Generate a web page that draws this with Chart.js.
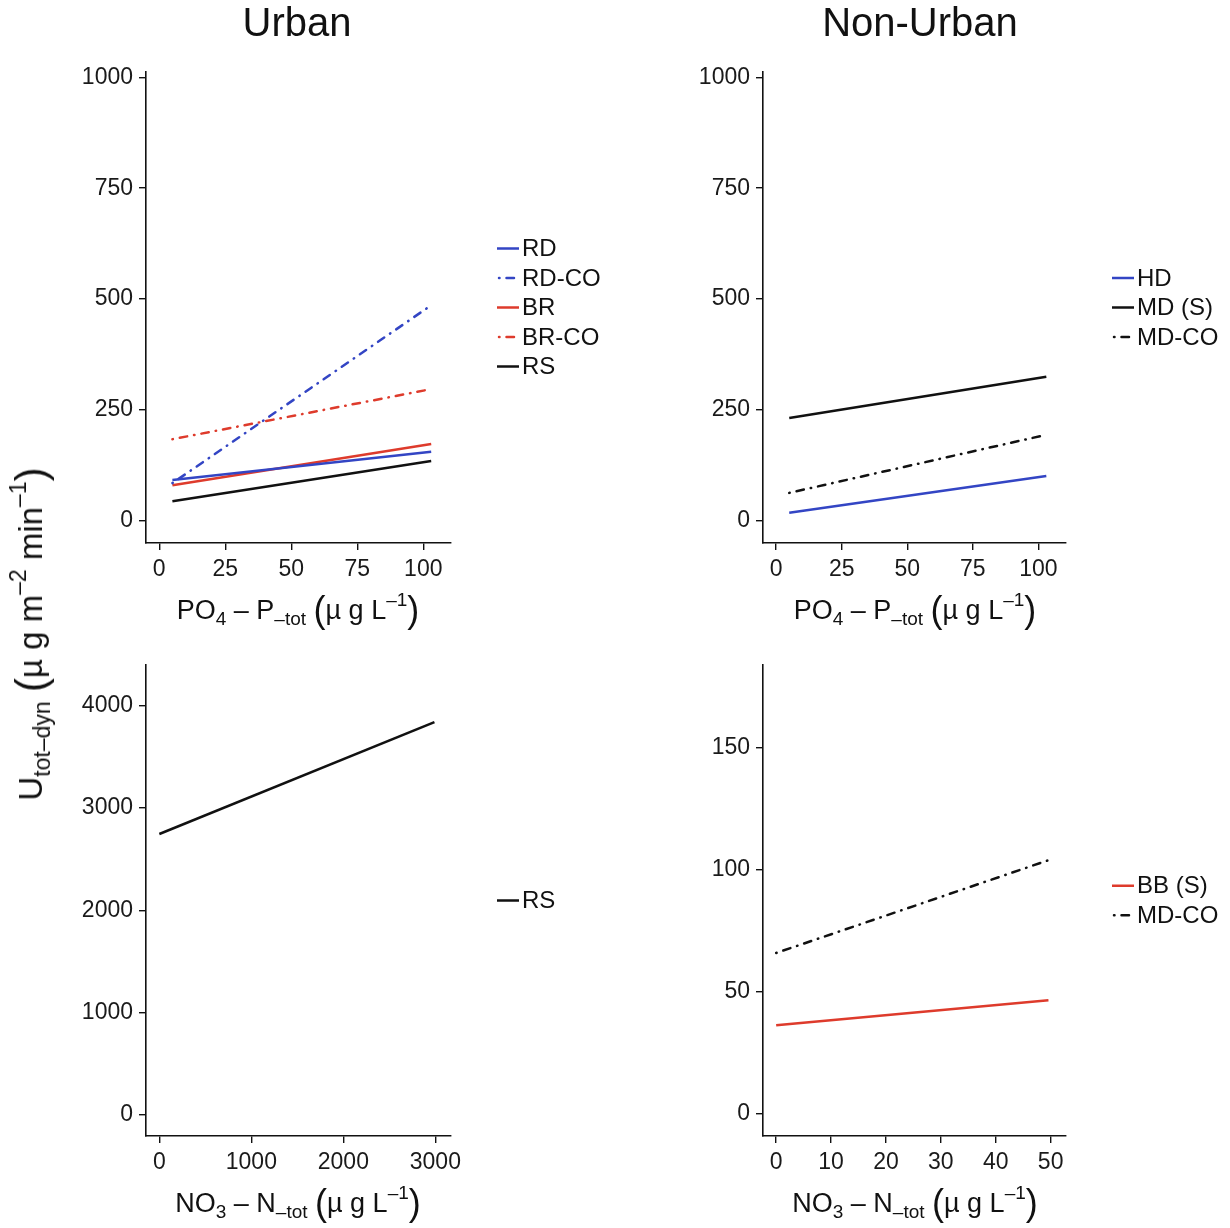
<!DOCTYPE html>
<html>
<head>
<meta charset="utf-8">
<script src="https://cdn.jsdelivr.net/npm/chart.js@4.4.1/dist/chart.umd.min.js"></script>
<style>
  body { margin: 0; background: #fff; font-family: "Liberation Sans", Arial, sans-serif; color: #111; }
  #wrap { position: relative; width: 1230px; height: 1228px; overflow: hidden; }
  canvas.panel { position: absolute; }
  .lbl { position: absolute; transform: translate(-50%, -50%); white-space: nowrap; line-height: 1; }
  .title { font-size: 40px; }
  .axt { font-size: 27px; }
  .axt sub, .axt sup { font-size: 19px; line-height: 0; }
  .axt sub { vertical-align: -6px; }
  .axt sup { vertical-align: 13px; }
  .par { font-size: 36px; vertical-align: -3px; }
  #ytitle { transform: translate(-50%, -50%) rotate(-90deg); font-size: 33px; }
  #ytitle sub, #ytitle sup { font-size: 23px; }
  #ytitle sub { vertical-align: -8px; }
  #ytitle sup { vertical-align: 16px; }
  #ytitle .par { font-size: 42px; }
</style>
</head>
<body>
<div id="wrap">
  <canvas id="urbanPo" class="panel" width="615" height="614" style="left:0;top:0"></canvas>
  <canvas id="nonUrbanPo" class="panel" width="615" height="614" style="left:615px;top:0"></canvas>
  <canvas id="urbanNo" class="panel" width="615" height="614" style="left:0;top:614px"></canvas>
  <canvas id="nonUrbanNo" class="panel" width="615" height="614" style="left:615px;top:614px"></canvas>

  <div class="lbl title" style="left:297px;top:22px">Urban</div>
  <div class="lbl title" style="left:920px;top:22px">Non-Urban</div>

  <div class="lbl axt" style="left:298px;top:610px">PO<sub>4</sub> – P<sub>–tot</sub> <span class="par">(</span>µ g L<sup>–1</sup><span class="par">)</span></div>
  <div class="lbl axt" style="left:915px;top:610px">PO<sub>4</sub> – P<sub>–tot</sub> <span class="par">(</span>µ g L<sup>–1</sup><span class="par">)</span></div>
  <div class="lbl axt" style="left:298px;top:1203px">NO<sub>3</sub> – N<sub>–tot</sub> <span class="par">(</span>µ g L<sup>–1</sup><span class="par">)</span></div>
  <div class="lbl axt" style="left:915px;top:1203px">NO<sub>3</sub> – N<sub>–tot</sub> <span class="par">(</span>µ g L<sup>–1</sup><span class="par">)</span></div>

  <div id="ytitle" class="lbl axt" style="left:31px;top:634px">U<sub>tot–dyn</sub> <span class="par">(</span>µ g m<sup>–2</sup> min<sup>–1</sup><span class="par">)</span></div>
</div>

<script>
// fitted regression lines, endpoints only
const poRange = [5, 103];
const urbanPoNames = ["RD", "RD-CO", "BR", "BR-CO", "RS"];
const urbanRD = [92, 156];
const urbanRDCO = [85, 486];
const urbanBR = [80, 173];
const urbanBRCO = [184, 297];
const urbanRS = [44, 135];

const nonUrbanPoNames = ["HD", "MD (S)", "MD-CO"];
const nonUrbanHD = [18, 101];
const nonUrbanMD = [232, 325];
const nonUrbanMDCO = [63, 194];

const urbanNoRange = [0, 2990];
const urbanNoNames = ["RS"];
const urbanNoRS = [2746, 3841];

const nonUrbanNoRange = [0, 49.6];
const nonUrbanNoNames = ["BB (S)", "MD-CO"];
const nonUrbanNoBB = [36.4, 46.6];
const nonUrbanNoMDCO = [66, 104];

// tick labels
const poTicks = [0, 25, 50, 75, 100];
const poUptakeTicks = [0, 250, 500, 750, 1000];
const urbanNoTicks = [0, 1000, 2000, 3000];
const urbanNoUptakeTicks = [0, 1000, 2000, 3000, 4000];
const nonUrbanNoTicks = [0, 10, 20, 30, 40, 50];
const nonUrbanNoUptakeTicks = [0, 50, 100, 150];

const BLUE = "#3345c4";
const RED = "#de3b2c";
const BLACK = "#111";
// dot, gap, dash, gap (round caps widen each piece a little)
const DOTDASH = [0.5, 7, 7.5, 7];
const FONT = '"Liberation Sans", Arial, sans-serif';

function line(label, xs, ys, color, dash) {
    return {
        label: label,
        data: xs.map((x, i) => ({ x: x, y: ys[i] })),
        borderColor: color,
        borderWidth: 2.5,
        borderDash: dash || [],
        borderCapStyle: dash ? "round" : "butt",
        pointRadius: 0,
        fill: false,
        tension: 0
    };
}

// legend beside the panel, vertically centred on the plot area
const sideLegend = {
    id: "sideLegend",
    afterDraw(chart) {
        const ctx = chart.ctx;
        const area = chart.chartArea;
        const sets = chart.data.datasets;
        const x0 = area.right + 46;
        const mid = (area.top + area.bottom) / 2;
        ctx.save();
        ctx.font = "24px " + FONT;
        ctx.textBaseline = "middle";
        sets.forEach((ds, i) => {
            const y = mid + (i - (sets.length - 1) / 2) * 29.5;
            ctx.strokeStyle = ds.borderColor;
            ctx.lineWidth = 2.5;
            ctx.lineCap = ds.borderCapStyle;
            ctx.setLineDash(ds.borderDash);
            ctx.beginPath();
            ctx.moveTo(x0 + (ds.borderDash.length ? 2 : 0), y);
            ctx.lineTo(x0 + 22, y);
            ctx.stroke();
            ctx.setLineDash([]);
            ctx.fillStyle = "#111";
            ctx.fillText(ds.label, x0 + 25, y + 1);
        });
        ctx.restore();
    }
};

function axis(min, max, ticks, fit) {
    return {
        type: "linear",
        min: min,
        max: max,
        afterBuildTicks: s => { s.ticks = ticks.map(v => ({ value: v })); },
        afterFit: fit,
        grid: { drawOnChartArea: false, drawTicks: true, tickLength: 7, color: "#111", lineWidth: 1.4 },
        border: { display: true, color: "#111", width: 1.6 },
        ticks: {
            color: "#1a1a1a",
            font: { family: FONT, size: 23 },
            padding: 6,
            maxRotation: 0,
            autoSkip: false,
            callback: v => String(v)
        }
    };
}

function panel(id, datasets, xr, xt, yr, yt, pad) {
    new Chart(document.getElementById(id), {
        type: "line",
        data: { datasets: datasets },
        options: {
            responsive: false,
            animation: false,
            events: [],
            layout: { padding: pad },
            plugins: { legend: { display: false }, tooltip: { enabled: false } },
            scales: {
                x: axis(xr[0], xr[1], xt, s => { s.height = 40; }),
                y: axis(yr[0], yr[1], yt, s => { s.width = 80; })
            }
        },
        plugins: [sideLegend]
    });
}

panel("urbanPo", [
    line(urbanPoNames[0], poRange, urbanRD, BLUE),
    line(urbanPoNames[1], poRange, urbanRDCO, BLUE, DOTDASH),
    line(urbanPoNames[2], poRange, urbanBR, RED),
    line(urbanPoNames[3], poRange, urbanBRCO, RED, DOTDASH),
    line(urbanPoNames[4], poRange, urbanRS, BLACK)
], [-5, 110.5], poTicks, [-50, 1012], poUptakeTicks,
   { left: 66, top: 72, right: 164, bottom: 31 });

panel("nonUrbanPo", [
    line(nonUrbanPoNames[0], poRange, nonUrbanHD, BLUE),
    line(nonUrbanPoNames[1], poRange, nonUrbanMD, BLACK),
    line(nonUrbanPoNames[2], poRange, nonUrbanMDCO, BLACK, DOTDASH)
], [-5, 110.5], poTicks, [-50, 1012], poUptakeTicks,
   { left: 68, top: 72, right: 164, bottom: 31 });

panel("urbanNo", [
    line(urbanNoNames[0], urbanNoRange, urbanNoRS, BLACK)
], [-145, 3170], urbanNoTicks, [-210, 4400], urbanNoUptakeTicks,
   { left: 66, top: 51, right: 164, bottom: 52 });

panel("nonUrbanNo", [
    line(nonUrbanNoNames[0], nonUrbanNoRange, nonUrbanNoBB, RED),
    line(nonUrbanNoNames[1], nonUrbanNoRange, nonUrbanNoMDCO, BLACK, DOTDASH)
], [-2.4, 52.8], nonUrbanNoTicks, [-9, 184], nonUrbanNoUptakeTicks,
   { left: 68, top: 51, right: 164, bottom: 52 });
</script>
</body>
</html>
